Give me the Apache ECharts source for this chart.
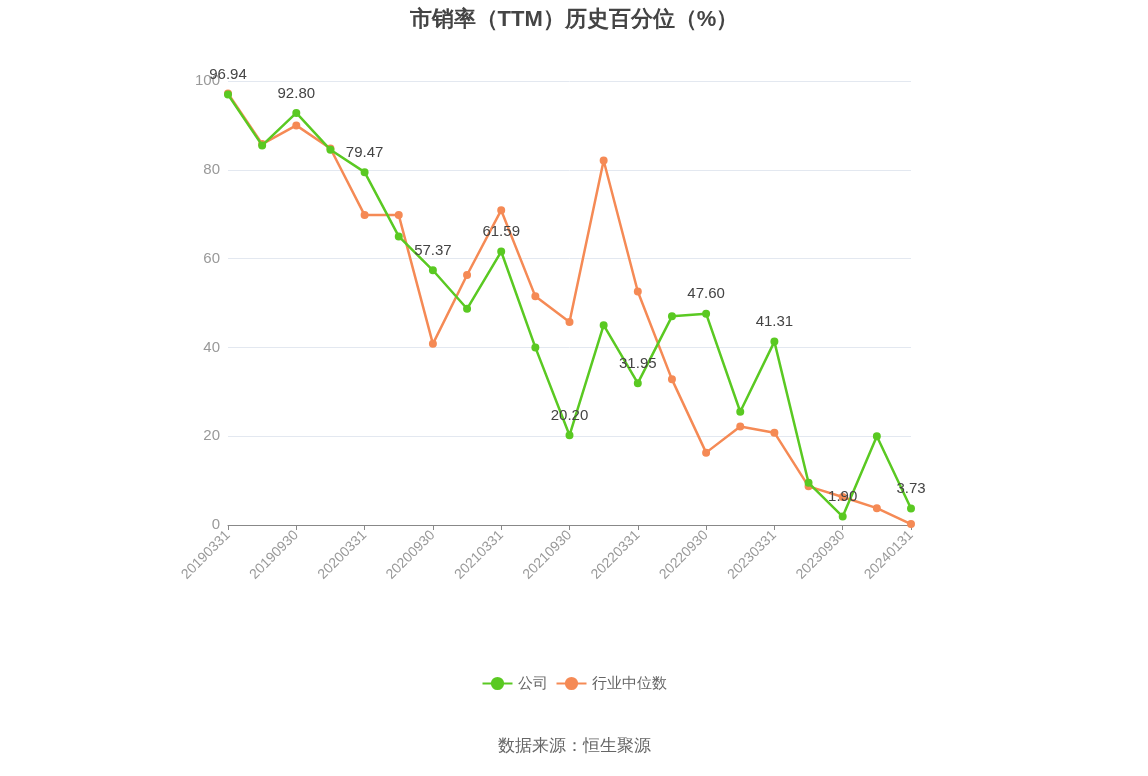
<!DOCTYPE html>
<html><head><meta charset="utf-8">
<script src="https://cdn.jsdelivr.net/npm/echarts@6/dist/echarts.min.js"></script>
<style>html,body{margin:0;padding:0;background:#fff}#c{width:1148px;height:776px}</style>
</head><body><div id="c"></div>
<script>
const categories=['20190331','20190630','20190930','20191231','20200331','20200630','20200930','20201231','20210331','20210630','20210930','20211231','20220331','20220630','20220930','20221231','20230331','20230630','20230930','20231231','20240131'];
const company=[96.94,85.5,92.80,84.5,79.47,65.0,57.37,48.7,61.59,40.0,20.20,45.0,31.95,47.0,47.60,25.5,41.31,9.5,1.90,20.0,3.73];
const industry=[97.2,85.8,90.0,84.8,69.8,69.8,40.8,56.3,70.9,51.5,45.7,82.1,52.6,32.8,16.3,22.2,20.8,8.7,6.3,3.8,0.2];
const chart=echarts.init(document.getElementById('c'));
chart.setOption({
  title:{text:'市销率（TTM）历史百分位（%）',left:'center',top:4,textStyle:{fontSize:22,fontWeight:'bold',color:'#444'}},
  grid:{left:228,right:237,top:81,bottom:251},
  legend:{bottom:80,itemWidth:30,itemHeight:14,textStyle:{fontSize:15,color:'#666'},data:['公司','行业中位数']},
  graphic:[{type:'text',left:'center',top:738,style:{text:'数据来源：恒生聚源',fontSize:17,fill:'#666'}}],
  xAxis:{type:'category',data:categories,boundaryGap:false,
    axisLine:{lineStyle:{color:'#888'}},axisTick:{alignWithLabel:true,interval:1,lineStyle:{color:'#888'}},
    axisLabel:{interval:1,rotate:45,color:'#999',fontSize:14}},
  yAxis:{type:'value',min:0,max:100,interval:20,axisLabel:{color:'#999',fontSize:15},
    splitLine:{lineStyle:{color:'#e3e8f0'}}},
  series:[
    {name:'公司',type:'line',data:company,symbol:'circle',symbolSize:6,
      itemStyle:{color:'#5ac922',borderWidth:2,borderColor:'#5ac922'},lineStyle:{width:2.5,color:'#5ac922'},
      label:{show:true,position:'top',fontSize:15,color:'#444',distance:8,
        formatter:p=>p.dataIndex%2===0?p.value.toFixed(2):''},z:3},
    {name:'行业中位数',type:'line',data:industry,symbol:'circle',symbolSize:6,
      itemStyle:{color:'#f58a55',borderWidth:2,borderColor:'#f58a55'},lineStyle:{width:2.5,color:'#f58a55'},z:2}
  ]
});
</script></body></html>
